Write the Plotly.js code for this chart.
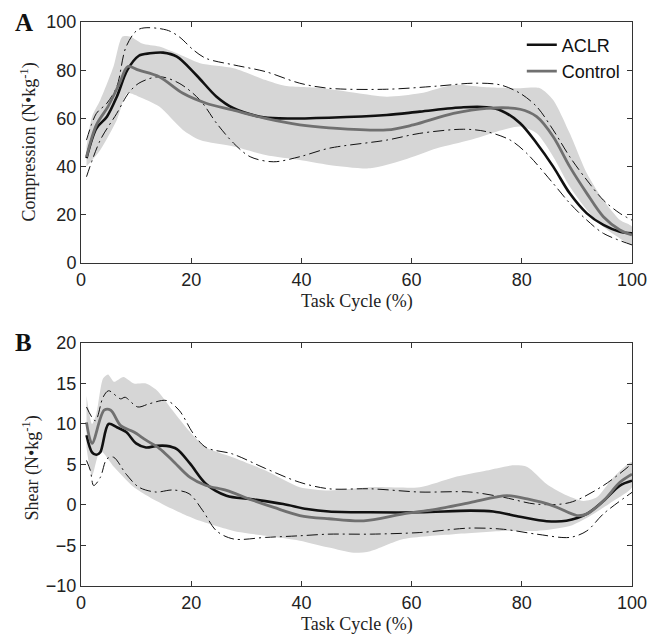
<!DOCTYPE html>
<html>
<head>
<meta charset="utf-8">
<script src="https://cdn.plot.ly/plotly-3.0.1.min.js"></script>
<style>html,body{margin:0;padding:0;background:#fff;}#chart{width:658px;height:635px;}</style>
</head>
<body>
<div id="chart"></div>
<script>
// ---------- Panel A: Compression ----------
const aclrCompX = [1, 2.8, 4.7, 6.5, 8.4, 10.5, 12.5, 14.9, 17.4, 21, 24.6, 27.7, 32.5, 36, 45, 55.5, 61.5, 69.4, 73.6, 76.3, 79.7, 82.7, 85.7, 88.7, 91.8, 94.8, 97.8, 100];
const aclrCompY = [43.5, 55.9, 60.7, 69, 80, 86, 87, 87.3, 85.6, 77.8, 69, 64.2, 60.7, 60, 60.3, 61.4, 62.8, 64.6, 64.6, 63.2, 58, 49.7, 40, 28.9, 20.6, 15.8, 13, 12.3];

const ctrlCompX = [1, 2.8, 4.9, 7, 8.5, 10.5, 14.2, 18.5, 22.7, 27.5, 33.5, 39.7, 45, 55.5, 60.3, 67.6, 73.6, 79.7, 82.7, 85.7, 88.7, 91.8, 94.8, 97.8, 100];
const ctrlCompY = [44, 57.3, 64.9, 74.6, 81.5, 80, 77.3, 70.4, 66.3, 63.5, 60, 57.3, 56.1, 55.2, 57.3, 62.1, 64.2, 63.8, 60.7, 52.4, 40, 28.9, 19.2, 13.7, 11.6];

const ctrlCompUpX = [1, 2, 3.5, 5.9, 7.5, 9, 11.1, 14.2, 17.4, 21.6, 27.7, 33.5, 37, 44, 50, 55.5, 61.5, 67.6, 73.6, 79.7, 83.3, 85.7, 88.7, 91.8, 94.8, 97.8, 100];
const ctrlCompUpY = [48.3, 60.7, 67.6, 81.5, 93.9, 93.9, 91.1, 89.8, 87, 82.9, 80.8, 75.9, 73.5, 72.5, 70.5, 69, 70.4, 73.9, 72.9, 72.5, 72.5, 67.6, 53.8, 37.2, 26.1, 17.8, 15];
const ctrlCompLoX = [1, 3.5, 6.5, 8.4, 10.5, 14.2, 18.5, 21.6, 27.7, 33.5, 39.7, 45, 52.5, 58.5, 64.6, 70.6, 75.4, 79.7, 82.7, 85.7, 88.7, 91.8, 94.8, 97.8, 100];
const ctrlCompLoY = [40, 46.9, 59.3, 70.4, 69, 64.9, 55.2, 51, 48.3, 44.8, 42.7, 40.7, 39.3, 42.7, 47.6, 51, 54.5, 56.6, 53.8, 44.1, 31.7, 22, 15, 10.2, 7.5];

const aclrCompUpX = [1, 2.8, 4.7, 6.5, 8.2, 10.5, 15.5, 17.8, 20.4, 22.7, 27.7, 33.5, 39.7, 45, 55.5, 64.6, 71.2, 76.1, 79.7, 82.7, 85.7, 88.7, 91.8, 94.8, 97.8, 100];
const aclrCompUpY = [51, 62.1, 66.3, 73.2, 89.8, 97, 96.7, 93.9, 88.4, 84.9, 82.2, 79.4, 74.6, 72.5, 72.1, 73.4, 74.6, 73.9, 70.4, 64.9, 55.2, 44.1, 34.4, 26.1, 20.6, 17.8];
const aclrCompLoX = [1, 3.5, 6.5, 8.6, 10.5, 14.2, 17.8, 21.6, 24.6, 27.7, 30.7, 34.9, 39.7, 45, 55.5, 61.5, 69.4, 73.6, 77.9, 80.9, 85.7, 88.7, 91.8, 94.8, 100];
const aclrCompLoY = [35.8, 51, 62.1, 70.4, 74.6, 77.3, 74.6, 67.6, 58, 49.7, 44.1, 42, 44.1, 47.6, 51, 53.8, 55.5, 54.5, 51, 45.5, 33, 24.8, 17.8, 12.3, 7.5];

// ---------- Panel B: Shear ----------
const aclrShearX = [1, 2, 2.8, 3.5, 5, 6.5, 8.2, 10, 11.8, 13.7, 15.5, 17.4, 19.8, 22.7, 26.4, 30.7, 36.7, 41, 45, 52.5, 61.5, 70.6, 74.8, 79.7, 84.5, 88.1, 91.8, 94.8, 97.8, 100];
const aclrShearY = [8.6, 6.5, 6.2, 6.5, 10, 9.6, 9, 7.6, 7.1, 7.3, 7.3, 6.9, 5.1, 2.6, 1.15, 0.74, 0.12, -0.5, -0.8, -0.9, -0.9, -0.7, -0.8, -1.45, -2.0, -1.95, -1.1, 0.5, 2.4, 3.0];

const ctrlShearX = [1, 2, 4.2, 5.4, 7.2, 9.6, 11.8, 14.2, 16.6, 19.8, 22.7, 26.4, 30.7, 35, 39.7, 45, 51.3, 58.5, 64.6, 70.6, 77.3, 81, 85.7, 90, 91.8, 94.8, 97.8, 100];
const ctrlShearY = [10.2, 7.6, 11.7, 11.7, 9.8, 9, 8, 7.0, 5.5, 3.4, 2.4, 1.8, 0.7, -0.3, -1.3, -1.7, -1.95, -1.1, -0.5, 0.3, 1.15, 0.74, -0.1, -1.3, -1.1, 0.5, 2.8, 3.8];

const ctrlShearUpX = [1, 2, 2.8, 4, 4.9, 6, 7.7, 9.6, 11.8, 13.7, 16.6, 19.8, 22.7, 27.5, 33.5, 39.7, 45, 52.5, 61.5, 67.6, 73.6, 78.5, 81, 84.5, 87.5, 91.2, 93.6, 96.6, 100];
const ctrlShearUpY = [13.5, 10, 11.3, 15.6, 16.1, 15.2, 15.8, 15, 15, 14.2, 11.7, 9, 7.1, 5.9, 4.25, 2.2, 1.8, 2.2, 2.2, 3.4, 4.25, 4.9, 4.7, 2.6, 1.4, 0.5, 0.95, 3.4, 5.3];
const ctrlShearLoX = [1, 2, 3.5, 6, 9.6, 13.7, 18.5, 21.6, 27.7, 33.5, 39.7, 45, 49.5, 52.5, 58.5, 67.6, 76.7, 82.7, 88.7, 93, 96.6, 100];
const ctrlShearLoY = [7.1, 3.6, 6.7, 4.7, 2.2, 0.5, -1.1, -1.95, -3.2, -3.8, -4.4, -5.25, -5.9, -5.7, -4.2, -3.6, -3.2, -3.2, -2.6, -1.1, 0.5, 2.2];

const aclrShearUpX = [1, 2.6, 4, 5, 7.2, 8, 10.3, 12.4, 15.5, 17.8, 20.4, 22.7, 27.5, 33.5, 39.7, 45, 52.5, 61.5, 70.6, 76.7, 82.7, 88.7, 94.8, 100];
const aclrShearUpY = [12.1, 10.4, 13.3, 14.1, 13.1, 13.3, 12.1, 12.5, 12.9, 11.7, 8.8, 7.1, 6.3, 4.5, 2.8, 2.0, 2.0, 1.6, 1.6, 0.95, 0.1, 0.3, 2.4, 5.1];
const aclrShearLoX = [1, 1.7, 2.3, 3.5, 4.7, 5.9, 8.2, 10.5, 13.6, 16.6, 19.6, 22.1, 24.6, 27.7, 33.5, 39.7, 45, 52.5, 61.5, 70.6, 76.7, 82.7, 88.7, 91.8, 94.8, 100];
const aclrShearLoY = [5.5, 4.25, 2.4, 3.4, 5.7, 5.9, 3.8, 2.2, 1.6, 1.85, 1.4, -0.7, -3.2, -4.2, -4.0, -3.8, -3.6, -3.6, -3.4, -2.85, -3.0, -3.6, -4.0, -3.2, -1.1, 1.56];

const xTicks = [0, 20, 40, 60, 80, 100];
const compTicks = [0, 20, 40, 60, 80, 100];
const shearTicks = [-10, -5, 0, 5, 10, 15, 20];
const seriesNames = ['ACLR', 'Control'];

const BLACK = '#111111', GRAY = '#707070', BAND = '#d6d6d6';
const DASHDOT = '11px,4px,2px,4px';
const SMOOTH = 0.9;

function band(loX, loY, upX, upY, xa, ya) {
  return {
    x: loX.concat(upX.slice().reverse()),
    y: loY.concat(upY.slice().reverse()),
    xaxis: xa, yaxis: ya, type: 'scatter', mode: 'lines',
    fill: 'toself', fillcolor: BAND, line: {width: 0, shape: 'spline', smoothing: 0.7},
    hoverinfo: 'skip', showlegend: false
  };
}
function sdLine(x, y, xa, ya) {
  return {x: x, y: y, xaxis: xa, yaxis: ya, type: 'scatter', mode: 'lines',
    line: {color: BLACK, width: 1, dash: DASHDOT, shape: 'spline', smoothing: SMOOTH}, showlegend: false};
}
function meanLine(x, y, xa, ya, color, w, name, show) {
  return {x: x, y: y, xaxis: xa, yaxis: ya, type: 'scatter', mode: 'lines', name: name,
    line: {color: color, width: w, shape: 'spline', smoothing: SMOOTH}, showlegend: show};
}

const data = [
  band(ctrlCompLoX, ctrlCompLoY, ctrlCompUpX, ctrlCompUpY, 'x', 'y'),
  sdLine(aclrCompUpX, aclrCompUpY, 'x', 'y'),
  sdLine(aclrCompLoX, aclrCompLoY, 'x', 'y'),
  meanLine(aclrCompX, aclrCompY, 'x', 'y', BLACK, 2.6, seriesNames[0], true),
  meanLine(ctrlCompX, ctrlCompY, 'x', 'y', GRAY, 2.8, seriesNames[1], true),
  band(ctrlShearLoX, ctrlShearLoY, ctrlShearUpX, ctrlShearUpY, 'x2', 'y2'),
  sdLine(aclrShearUpX, aclrShearUpY, 'x2', 'y2'),
  sdLine(aclrShearLoX, aclrShearLoY, 'x2', 'y2'),
  meanLine(aclrShearX, aclrShearY, 'x2', 'y2', BLACK, 2.6, seriesNames[0], false),
  meanLine(ctrlShearX, ctrlShearY, 'x2', 'y2', GRAY, 2.8, seriesNames[1], false)
];

const tickFont = {family: '"Liberation Sans", Arial, sans-serif', size: 18, color: '#222'};
const serif = '"Liberation Serif", "Times New Roman", serif';
function axisBase(extra) {
  return Object.assign({
    showgrid: false, zeroline: false, showline: true, linecolor: '#333', linewidth: 1,
    mirror: 'ticks', ticks: 'inside', ticklen: 5, tickcolor: '#333', tickwidth: 1,
    tickfont: tickFont, fixedrange: true
  }, extra);
}

const layout = {
  width: 658, height: 635,
  margin: {l: 81, r: 26, t: 22, b: 49},
  paper_bgcolor: '#fff', plot_bgcolor: '#fff',
  showlegend: true,
  legend: {x: 0.80, y: 0.992, xanchor: 'left', yanchor: 'top', bgcolor: 'rgba(0,0,0,0)',
    font: {family: '"Liberation Sans", Arial, sans-serif', size: 18, color: '#111'},
    tracegroupgap: 0, itemwidth: 30},
  xaxis: axisBase({domain: [0, 1], range: [0, 100], tickvals: xTicks, anchor: 'y'}),
  yaxis: axisBase({domain: [0.5727, 1], range: [0, 100], tickvals: compTicks, anchor: 'x'}),
  xaxis2: axisBase({domain: [0, 1], range: [0, 100], tickvals: xTicks, anchor: 'y2'}),
  yaxis2: axisBase({domain: [0, 0.4309], range: [-10, 20], tickvals: shearTicks, anchor: 'x2'}),
  annotations: [
    {text: 'Task Cycle (%)', xref: 'paper', yref: 'paper', x: 0.5, y: 0.5727, yshift: -39, xanchor: 'center', yanchor: 'middle', showarrow: false, font: {family: serif, size: 18, color: '#222'}},
    {text: 'Task Cycle (%)', xref: 'paper', yref: 'paper', x: 0.5, y: 0, yshift: -38, xanchor: 'center', yanchor: 'middle', showarrow: false, font: {family: serif, size: 18, color: '#222'}},
    {text: 'Compression (N•kg<sup>-1</sup>)', xref: 'paper', yref: 'paper', x: 0, xshift: -52, y: 0.7864, xanchor: 'center', yanchor: 'middle', textangle: -90, showarrow: false, font: {family: serif, size: 18, color: '#222'}},
    {text: 'Shear (N•kg<sup>-1</sup>)', xref: 'paper', yref: 'paper', x: 0, xshift: -50, y: 0.2082, xanchor: 'center', yanchor: 'middle', textangle: -90, showarrow: false, font: {family: serif, size: 18, color: '#222'}},
    {text: '<b>A</b>', xref: 'paper', yref: 'paper', x: 0, xshift: -57, y: 1, xanchor: 'center', yanchor: 'middle', showarrow: false, font: {family: serif, size: 25, color: '#111'}},
    {text: '<b>B</b>', xref: 'paper', yref: 'paper', x: 0, xshift: -58, y: 0.4309, xanchor: 'center', yanchor: 'middle', showarrow: false, font: {family: serif, size: 25, color: '#111'}}
  ]
};

Plotly.newPlot('chart', data, layout, {displayModeBar: false, staticPlot: true});
</script>
</body>
</html>
